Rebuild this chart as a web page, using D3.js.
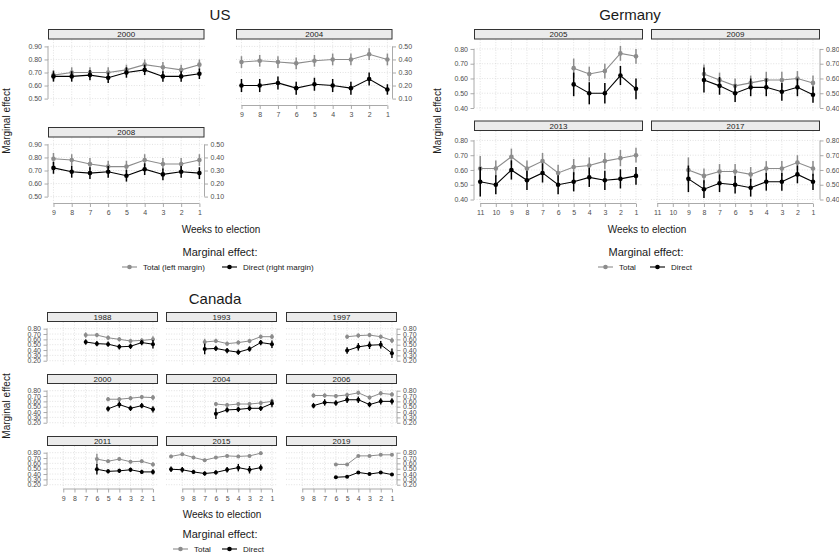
<!DOCTYPE html>
<html><head><meta charset="utf-8">
<script src="https://cdn.jsdelivr.net/npm/d3@7/dist/d3.min.js"></script>
<style>body{margin:0;background:#fff}svg{display:block}text{font-family:"Liberation Sans",Arial,Helvetica,sans-serif}</style>
</head><body><svg id="c" width="839" height="558"></svg>
<script>
// ---------------- DATA ----------------
// US (total on left margin, direct on right margin = left - 0.4)
const usWeeks = [9,8,7,6,5,4,3,2,1];
const us2000Total  = [0.68,0.70,0.70,0.70,0.72,0.76,0.74,0.72,0.76];
const us2000Direct = [0.27,0.27,0.28,0.26,0.30,0.32,0.27,0.27,0.29];
const us2000TotalErr  = [0.04,0.04,0.04,0.04,0.04,0.04,0.04,0.04,0.04];
const us2000DirectErr = [0.04,0.04,0.04,0.04,0.04,0.04,0.04,0.04,0.04];
const us2004Total  = [0.78,0.79,0.78,0.77,0.79,0.80,0.80,0.84,0.80];
const us2004Direct = [0.20,0.20,0.22,0.18,0.21,0.20,0.18,0.25,0.17];
const us2004TotalErr  = [0.045,0.045,0.045,0.045,0.045,0.045,0.045,0.045,0.045];
const us2004DirectErr = [0.05,0.05,0.05,0.05,0.05,0.05,0.05,0.05,0.04];
const us2008Total  = [0.79,0.78,0.75,0.73,0.73,0.78,0.75,0.75,0.78];
const us2008Direct = [0.32,0.29,0.28,0.29,0.26,0.31,0.27,0.29,0.28];
const us2008TotalErr  = [0.045,0.045,0.045,0.045,0.045,0.045,0.045,0.045,0.045];
const us2008DirectErr = [0.045,0.045,0.045,0.045,0.045,0.045,0.045,0.045,0.045];
const usLeftTicks  = [0.5,0.6,0.7,0.8,0.9];
const usRightTicks = [0.1,0.2,0.3,0.4,0.5];

// Germany
const de2005Weeks = [5,4,3,2,1];
const de2005Total  = [0.67,0.63,0.65,0.77,0.75];
const de2005Direct = [0.56,0.50,0.50,0.62,0.53];
const de2005TotalErr  = [0.065,0.05,0.05,0.05,0.05];
const de2005DirectErr = [0.08,0.075,0.07,0.065,0.07];
const de2009Weeks = [8,7,6,5,4,3,2,1];
const de2009Total  = [0.63,0.59,0.55,0.57,0.59,0.59,0.60,0.57];
const de2009Direct = [0.59,0.55,0.50,0.54,0.54,0.51,0.54,0.49];
const de2009TotalErr  = [0.065,0.05,0.05,0.05,0.055,0.055,0.05,0.05];
const de2009DirectErr = [0.085,0.06,0.06,0.06,0.06,0.06,0.06,0.055];
const de2013Weeks = [11,10,9,8,7,6,5,4,3,2,1];
const de2013Total  = [0.61,0.61,0.69,0.61,0.66,0.58,0.62,0.63,0.66,0.68,0.70];
const de2013Direct = [0.52,0.50,0.60,0.53,0.58,0.50,0.52,0.55,0.53,0.54,0.56];
const de2013TotalErr  = [0.085,0.055,0.055,0.055,0.055,0.055,0.055,0.055,0.055,0.055,0.05];
const de2013DirectErr = [0.1,0.065,0.065,0.065,0.065,0.065,0.065,0.065,0.065,0.065,0.06];
const de2017Weeks = [9,8,7,6,5,4,3,2,1];
const de2017Total  = [0.60,0.56,0.59,0.59,0.57,0.61,0.61,0.65,0.61];
const de2017Direct = [0.54,0.47,0.51,0.50,0.48,0.52,0.52,0.57,0.52];
const de2017TotalErr  = [0.085,0.05,0.05,0.05,0.05,0.05,0.05,0.05,0.05];
const de2017DirectErr = [0.09,0.06,0.06,0.06,0.06,0.06,0.06,0.06,0.055];
const deTicks = [0.4,0.5,0.6,0.7,0.8];

// Canada
const ca1988Weeks = [7,6,5,4,3,2,1];
const ca1988Total  = [0.68,0.68,0.63,0.60,0.57,0.58,0.60];
const ca1988Direct = [0.55,0.52,0.51,0.46,0.47,0.54,0.51];
const ca1988TotalErr  = [0.05,0.04,0.04,0.04,0.04,0.04,0.06];
const ca1988DirectErr = [0.05,0.05,0.05,0.05,0.05,0.05,0.08];
const ca1993Weeks = [7,6,5,4,3,2,1];
const ca1993Total  = [0.55,0.57,0.52,0.54,0.57,0.65,0.65];
const ca1993Direct = [0.42,0.43,0.39,0.36,0.42,0.54,0.51];
const ca1993TotalErr  = [0.06,0.04,0.04,0.04,0.04,0.04,0.05];
const ca1993DirectErr = [0.1,0.05,0.05,0.05,0.05,0.05,0.07];
const ca1997Weeks = [5,4,3,2,1];
const ca1997Total  = [0.65,0.67,0.68,0.65,0.58];
const ca1997Direct = [0.39,0.46,0.49,0.50,0.34];
const ca1997TotalErr  = [0.04,0.04,0.04,0.04,0.05];
const ca1997DirectErr = [0.06,0.07,0.07,0.07,0.09];
const ca2000Weeks = [5,4,3,2,1];
const ca2000Total  = [0.64,0.64,0.66,0.68,0.67];
const ca2000Direct = [0.46,0.54,0.47,0.52,0.45];
const ca2000TotalErr  = [0.04,0.04,0.04,0.04,0.05];
const ca2000DirectErr = [0.05,0.06,0.05,0.05,0.06];
const ca2004Weeks = [6,5,4,3,2,1];
const ca2004Total  = [0.55,0.53,0.55,0.55,0.57,0.60];
const ca2004Direct = [0.37,0.44,0.45,0.47,0.47,0.56];
const ca2004TotalErr  = [0.04,0.04,0.04,0.04,0.04,0.05];
const ca2004DirectErr = [0.1,0.05,0.05,0.05,0.05,0.07];
const ca2006Weeks = [8,7,6,5,4,3,2,1];
const ca2006Total  = [0.71,0.71,0.70,0.72,0.76,0.67,0.75,0.73];
const ca2006Direct = [0.52,0.58,0.57,0.63,0.63,0.54,0.60,0.60];
const ca2006TotalErr  = [0.04,0.04,0.04,0.04,0.04,0.04,0.04,0.04];
const ca2006DirectErr = [0.05,0.06,0.05,0.06,0.06,0.05,0.06,0.06];
const ca2011Weeks = [6,5,4,3,2,1];
const ca2011Total  = [0.68,0.64,0.68,0.63,0.64,0.58];
const ca2011Direct = [0.49,0.45,0.46,0.48,0.44,0.44];
const ca2011TotalErr  = [0.1,0.03,0.03,0.03,0.03,0.04];
const ca2011DirectErr = [0.1,0.04,0.04,0.04,0.04,0.05];
const ca2015Weeks = [10,9,8,7,6,5,4,3,2];
const ca2015Total  = [0.73,0.77,0.71,0.66,0.71,0.74,0.73,0.74,0.79];
const ca2015Direct = [0.49,0.48,0.44,0.41,0.43,0.48,0.52,0.48,0.52];
const ca2015TotalErr  = [0.03,0.03,0.03,0.03,0.03,0.03,0.03,0.03,0.03];
const ca2015DirectErr = [0.05,0.05,0.04,0.04,0.04,0.05,0.07,0.07,0.06];
const ca2019Weeks = [6,5,4,3,2,1];
const ca2019Total  = [0.58,0.58,0.74,0.74,0.76,0.76];
const ca2019Direct = [0.34,0.35,0.43,0.40,0.43,0.39];
const ca2019TotalErr  = [0.01,0.01,0.01,0.01,0.01,0.01];
const ca2019DirectErr = [0.01,0.01,0.01,0.01,0.01,0.01];
const caTicks = [0.2,0.3,0.4,0.5,0.6,0.7,0.8];

// ---------------- DRAWING ----------------
const svg = d3.select("#c");
const GREY = "#8c8c8c", BLACK = "#000000";
const FONT = '"Liberation Sans",Arial,Helvetica,sans-serif';

function styleAxis(ag) {
  ag.attr("font-family", FONT).attr("font-size", 7);
  ag.select(".domain").remove();
  ag.selectAll(".tick line").attr("stroke", "#a0a0a0").attr("stroke-width", 0.9);
  ag.selectAll(".tick text").attr("fill", "#4d4d4d");
}

function drawPanel(p) {
  const g = svg.append("g");
  const top = p.y + p.sh, bot = top + p.h;
  const x = d3.scaleLinear().domain(p.xDom).range([p.x, p.x + p.w]);
  const y = d3.scaleLinear().domain(p.yDom).range([bot, top]);
  const y2 = d3.scaleLinear().domain([p.yDom[0] - p.off, p.yDom[1] - p.off]).range([bot, top]);

  // grid
  g.append("g").selectAll("line").data(p.xGrid).join("line")
    .attr("x1", d => x(d)).attr("x2", d => x(d)).attr("y1", top).attr("y2", bot)
    .attr("stroke", "#cfcfcf").attr("stroke-width", 0.6).attr("stroke-dasharray", "1,1.6");
  g.append("g").selectAll("line").data(p.yTicks).join("line")
    .attr("x1", p.x).attr("x2", p.x + p.w).attr("y1", d => y(d)).attr("y2", d => y(d))
    .attr("stroke", "#cfcfcf").attr("stroke-width", 0.6).attr("stroke-dasharray", "1,1.6");

  // strip
  g.append("rect").attr("x", p.x + 0.5).attr("y", p.y + 0.5).attr("width", p.w - 1).attr("height", p.sh - 1)
    .attr("fill", "#ebebeb").attr("stroke", "#333").attr("stroke-width", 1);
  g.append("text").attr("x", p.x + p.w / 2).attr("y", p.y + p.sh / 2 + 2.8)
    .attr("text-anchor", "middle").attr("font-size", 8).attr("fill", "#1a1a1a").text(p.label);

  // series
  const series = [
    { vals: p.total, err: p.totalErr, color: GREY, sc: y },
    { vals: p.direct, err: p.directErr, color: BLACK, sc: y2 }
  ];
  series.forEach(s => {
    const pts = p.weeks.map((w, i) => ({ w: w, v: s.vals[i], e: s.err[i] }));
    g.append("g").selectAll("line").data(pts).join("line")
      .attr("x1", d => x(d.w)).attr("x2", d => x(d.w))
      .attr("y1", d => s.sc(d.v - d.e)).attr("y2", d => s.sc(d.v + d.e))
      .attr("stroke", s.color).attr("stroke-width", p.ew);
    g.append("path").datum(pts)
      .attr("d", d3.line().x(d => x(d.w)).y(d => s.sc(d.v)))
      .attr("fill", "none").attr("stroke", s.color).attr("stroke-width", p.lw);
    g.append("g").selectAll("circle").data(pts).join("circle")
      .attr("cx", d => x(d.w)).attr("cy", d => s.sc(d.v)).attr("r", p.r).attr("fill", s.color);
  });

  const AX = "#a0a0a0";
  if (p.left) {
    const ag = g.append("g").attr("transform", `translate(${p.x},0)`)
      .call(d3.axisLeft(y).tickValues(p.yTicks).tickSize(3.5).tickPadding(2.5).tickFormat(d3.format(".2f")));
    styleAxis(ag);
    g.append("line").attr("x1", p.x).attr("x2", p.x)
      .attr("y1", y(d3.min(p.yTicks))).attr("y2", y(d3.max(p.yTicks))).attr("stroke", AX).attr("stroke-width", 0.9);
  }
  if (p.right) {
    const ag = g.append("g").attr("transform", `translate(${p.x + p.w},0)`)
      .call(d3.axisRight(y2).tickValues(p.rTicks).tickSize(3.5).tickPadding(2.5).tickFormat(d3.format(".2f")));
    styleAxis(ag);
    g.append("line").attr("x1", p.x + p.w).attr("x2", p.x + p.w)
      .attr("y1", y2(d3.min(p.rTicks))).attr("y2", y2(d3.max(p.rTicks))).attr("stroke", AX).attr("stroke-width", 0.9);
  }
  if (p.bottom) {
    const ag = g.append("g").attr("transform", `translate(0,${bot})`)
      .call(d3.axisBottom(x).tickValues(p.xTicks).tickSize(3.5).tickPadding(3.5).tickFormat(d3.format("d")));
    styleAxis(ag);
    g.append("line").attr("y1", bot).attr("y2", bot)
      .attr("x1", x(d3.max(p.xTicks))).attr("x2", x(d3.min(p.xTicks))).attr("stroke", AX).attr("stroke-width", 0.9);
  }
}

function text(x, y, s, size, opts) {
  const t = svg.append("text").attr("x", x).attr("y", y).attr("font-size", size)
    .attr("fill", (opts && opts.fill) || "#1a1a1a").attr("text-anchor", (opts && opts.anchor) || "middle").text(s);
  if (opts && opts.rotate) t.attr("transform", `rotate(-90,${x},${y})`);
  return t;
}

function legendItem(x0, yc, color, label) {
  svg.append("line").attr("x1", x0).attr("x2", x0 + 15).attr("y1", yc).attr("y2", yc)
    .attr("stroke", color).attr("stroke-width", 1.1);
  svg.append("circle").attr("cx", x0 + 7.5).attr("cy", yc).attr("r", 2.3).attr("fill", color);
  text(x0 + 21, yc + 2.8, label, 8, { anchor: "start" });
}

// ---------- US ----------
const usWeeksTicks = [9,8,7,6,5,4,3,2,1];
const usBase = { w: 156.5, sh: 10.5, h: 66, xDom: [9.3, 0.72], yDom: [0.447, 0.953], off: 0.4,
  yTicks: usLeftTicks, rTicks: usRightTicks, xTicks: usWeeksTicks, xGrid: usWeeksTicks, r: 2.3, lw: 1.1, ew: 1.5 };
drawPanel(Object.assign({}, usBase, { x: 48, y: 29, label: "2000", weeks: usWeeks,
  total: us2000Total, direct: us2000Direct, totalErr: us2000TotalErr, directErr: us2000DirectErr, left: true }));
drawPanel(Object.assign({}, usBase, { x: 236, y: 29, label: "2004", weeks: usWeeks,
  total: us2004Total, direct: us2004Direct, totalErr: us2004TotalErr, directErr: us2004DirectErr, right: true, bottom: true }));
drawPanel(Object.assign({}, usBase, { x: 48, y: 127, label: "2008", weeks: usWeeks,
  total: us2008Total, direct: us2008Direct, totalErr: us2008TotalErr, directErr: us2008DirectErr, left: true, right: true, bottom: true }));

text(220, 20, "US", 15);
text(221, 232.5, "Weeks to election", 10);
text(9.5, 121, "Marginal effect", 10, { rotate: true });
text(220, 256, "Marginal effect:", 11);
legendItem(122, 267, GREY, "Total (left margin)");
legendItem(222, 267, BLACK, "Direct (right margin)");

// ---------- Germany ----------
const deWeeksTicks = [11,10,9,8,7,6,5,4,3,2,1];
const deBase = { w: 169, sh: 10.5, h: 72.5, xDom: [11.4, 0.55], yDom: [0.373, 0.864], off: 0,
  yTicks: deTicks, rTicks: deTicks, xTicks: deWeeksTicks, xGrid: deWeeksTicks, r: 2.3, lw: 1.1, ew: 1.5 };
drawPanel(Object.assign({}, deBase, { x: 474, y: 29, label: "2005", weeks: de2005Weeks,
  total: de2005Total, direct: de2005Direct, totalErr: de2005TotalErr, directErr: de2005DirectErr, left: true }));
drawPanel(Object.assign({}, deBase, { x: 651, y: 29, label: "2009", weeks: de2009Weeks,
  total: de2009Total, direct: de2009Direct, totalErr: de2009TotalErr, directErr: de2009DirectErr, right: true }));
drawPanel(Object.assign({}, deBase, { x: 474, y: 120.5, label: "2013", weeks: de2013Weeks,
  total: de2013Total, direct: de2013Direct, totalErr: de2013TotalErr, directErr: de2013DirectErr, left: true, bottom: true }));
drawPanel(Object.assign({}, deBase, { x: 651, y: 120.5, label: "2017", weeks: de2017Weeks,
  total: de2017Total, direct: de2017Direct, totalErr: de2017TotalErr, directErr: de2017DirectErr, right: true, bottom: true }));

text(630, 20, "Germany", 15);
text(647, 232.5, "Weeks to election", 10);
text(441, 121, "Marginal effect", 10, { rotate: true });
text(646, 256, "Marginal effect:", 11);
legendItem(598, 267, GREY, "Total");
legendItem(650, 267, BLACK, "Direct");

// ---------- Canada ----------
const caWeeksTicks = [9,8,7,6,5,4,3,2,1];
const caCols = [47, 166, 286], caRows = [312, 374, 436];
const caBase = { w: 111, sh: 10, h: 43, xDom: [10.45, 0.55], yDom: [0.12, 0.925], off: 0,
  yTicks: caTicks, rTicks: caTicks, xTicks: caWeeksTicks, xGrid: caWeeksTicks, r: 2, lw: 1, ew: 1.4 };
const caPanels = [
  ["1988", ca1988Weeks, ca1988Total, ca1988Direct, ca1988TotalErr, ca1988DirectErr],
  ["1993", ca1993Weeks, ca1993Total, ca1993Direct, ca1993TotalErr, ca1993DirectErr],
  ["1997", ca1997Weeks, ca1997Total, ca1997Direct, ca1997TotalErr, ca1997DirectErr],
  ["2000", ca2000Weeks, ca2000Total, ca2000Direct, ca2000TotalErr, ca2000DirectErr],
  ["2004", ca2004Weeks, ca2004Total, ca2004Direct, ca2004TotalErr, ca2004DirectErr],
  ["2006", ca2006Weeks, ca2006Total, ca2006Direct, ca2006TotalErr, ca2006DirectErr],
  ["2011", ca2011Weeks, ca2011Total, ca2011Direct, ca2011TotalErr, ca2011DirectErr],
  ["2015", ca2015Weeks, ca2015Total, ca2015Direct, ca2015TotalErr, ca2015DirectErr],
  ["2019", ca2019Weeks, ca2019Total, ca2019Direct, ca2019TotalErr, ca2019DirectErr]
];
caPanels.forEach((d, i) => {
  const c = i % 3, r = Math.floor(i / 3);
  drawPanel(Object.assign({}, caBase, { x: caCols[c], y: caRows[r], label: d[0], weeks: d[1],
    total: d[2], direct: d[3], totalErr: d[4], directErr: d[5],
    left: c === 0, right: c === 2, bottom: r === 2 }));
});

text(215, 304, "Canada", 15);
text(222, 517.5, "Weeks to election", 10);
text(9.5, 406, "Marginal effect", 10, { rotate: true });
text(220, 538, "Marginal effect:", 11);
legendItem(173, 549, GREY, "Total");
legendItem(222, 549, BLACK, "Direct");
</script></body></html>
